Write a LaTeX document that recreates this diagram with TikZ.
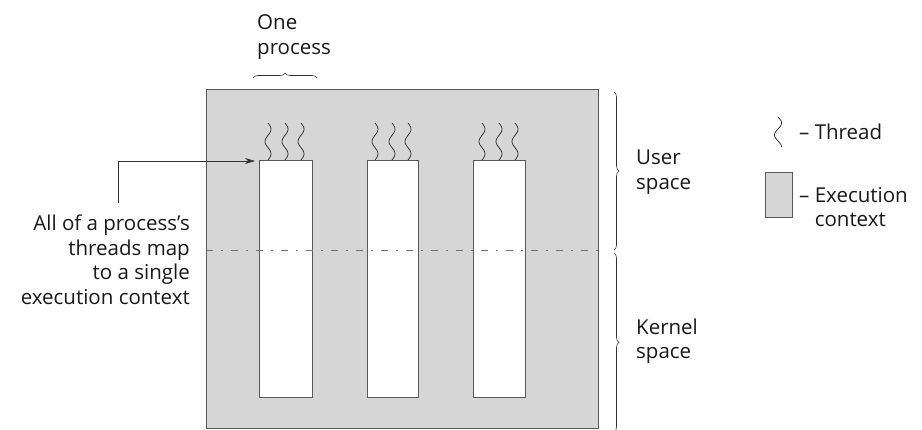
\documentclass[tikz,border=0pt]{standalone}
\usepackage{fontspec}
\setmainfont{Open Sans}
\usetikzlibrary{decorations.pathreplacing,arrows.meta}
\begin{document}
\begin{tikzpicture}[x=1pt,y=-1pt,
  ctxfill/.style={fill=black!16, draw=black!65, line width=0.7pt},
  hole/.style={fill=white, draw=black!65, line width=0.7pt, minimum width=#1, minimum height=237pt, inner sep=0pt, anchor=north west},
  lbl/.style={font=\fontsize{20.5}{24.5}\selectfont, inner sep=0pt, text=black!90},
  bracestyle/.style={decorate, decoration={brace, amplitude=5pt}, draw=black!80, line width=0.6pt},
  leader/.style={draw=black!80, line width=0.6pt},
  boundary/.style={draw=black!55, line width=0.7pt, dash pattern=on 7pt off 8pt on 2pt off 8pt},
  thread/.pic={\draw[black!85, line width=0.7pt] plot[domain=0:1, samples=40, smooth] ({3*sin(\x*540)},{\x*37});},
  lthread/.pic={\draw[black!85, line width=0.7pt] plot[domain=0:1, samples=40, smooth] ({3.5*sin(\x*450)},{\x*30});}
]
\useasboundingbox (0,0) rectangle (922,430);
% execution context (grey area)
\node[ctxfill, minimum width=392pt, minimum height=339pt, inner sep=0pt, anchor=north west] (ctx) at (206,89) {};
% white process columns
\node[hole=53pt] (r1) at (259,160) {};
\node[hole=51pt] (r2) at (367,160) {};
\node[hole=52pt] (r3) at (473,160) {};
% user/kernel boundary
\coordinate (bl) at (206,250);
\coordinate (br) at (598,250);
\draw[boundary] (bl) -- (br);
% threads
\foreach \n/\c in {r1/285, r2/392, r3/499}{
  \pic at (\c-17,123) {thread};
  \pic at (\c,123) {thread};
  \pic at (\c+16,123) {thread};
}
% one process brace
\coordinate (opl) at (253,78);
\coordinate (opr) at (317,78);
\draw[bracestyle] (opl) -- (opr);
\node[lbl, anchor=west, align=left] (onep) at (257,37) {One\\process};
% leader arrow
\coordinate (lead) at (118,203);
\draw[leader, -{Stealth[length=10pt,width=6pt]}] (lead) |- ([xshift=-4pt,yshift=-1pt]r1.north west);
\node[lbl, anchor=east, align=right] (expl) at (190,260) {All of a process’s\\threads map\\to a single\\execution context};
% right braces
\coordinate (ut) at (614,92);
\coordinate (ub) at (614,250);
\coordinate (kt) at (614,253);
\coordinate (kb) at (614,432);
\draw[bracestyle] (ut) -- (ub);
\draw[bracestyle] (kt) -- (kb);
\node[lbl, anchor=west, align=left] (user) at (636,172) {User\\space};
\node[lbl, anchor=west, align=left] (kern) at (636,341) {Kernel\\space};
% legend
\pic at (778,117) {lthread};
\node[lbl, anchor=west] (lthr) at (799,132) {– Thread};
\node[ctxfill, minimum width=27pt, minimum height=45pt, inner sep=0pt, anchor=north west] (lbox) at (765,172) {};
\node[lbl, anchor=west, align=left] (lexe) at (799,207) {– Execution\\\phantom{– }context};
\end{tikzpicture}
\end{document}
